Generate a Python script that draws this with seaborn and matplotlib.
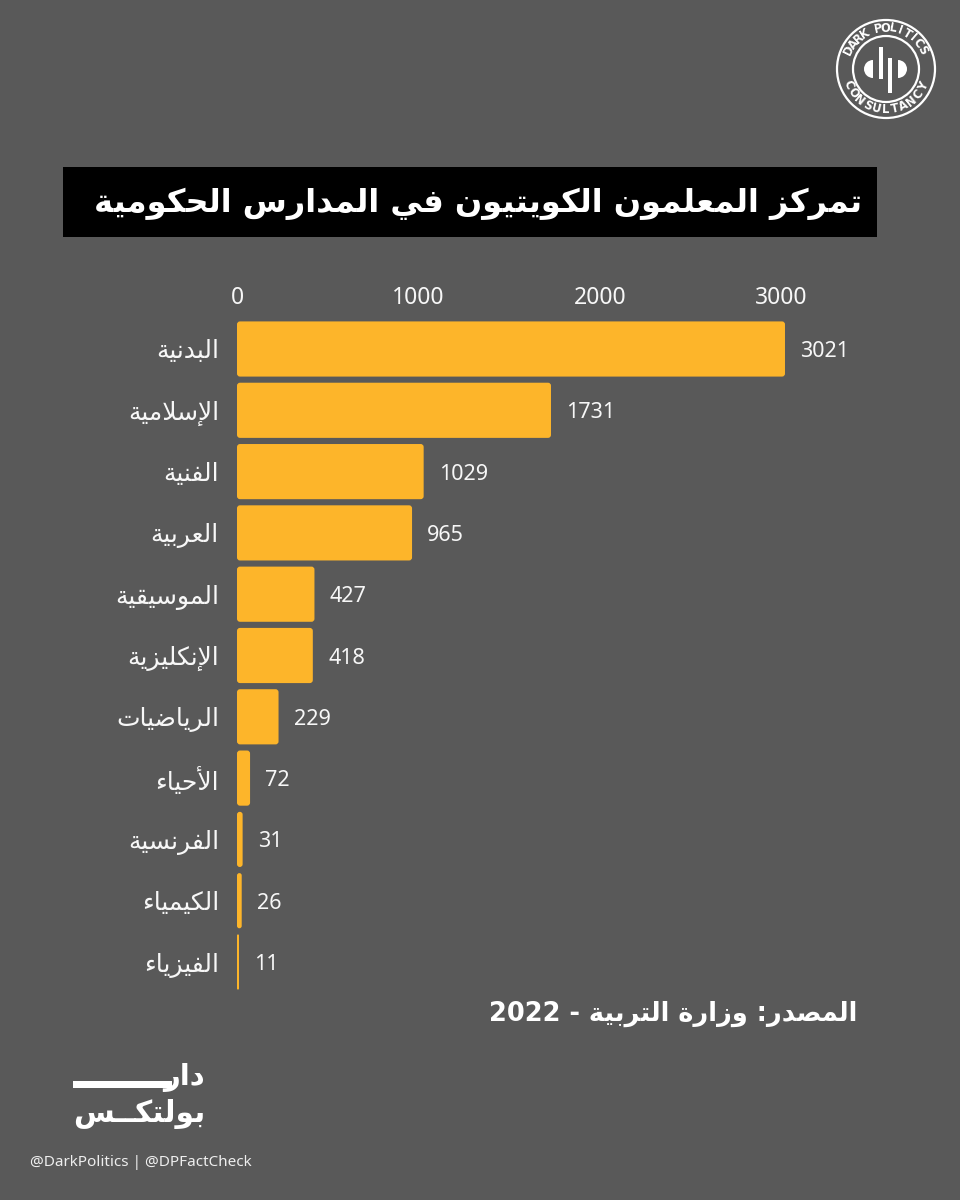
import numpy as np
import pandas as pd
import matplotlib
matplotlib.use("Agg")
import matplotlib.pyplot as plt
import seaborn as sns
from matplotlib.patches import Rectangle, Circle, Wedge, FancyBboxPatch

# ---------------- data ----------------
subjects = ["البدنية", "الإسلامية", "الفنية", "العربية", "الموسيقية", "الإنكليزية",
            "الرياضيات", "الأحياء", "الفرنسية", "الكيمياء", "الفيزياء"]
teachers = [3021, 1731, 1029, 965, 427, 418, 229, 72, 31, 26, 11]
x_ticks = [0, 1000, 2000, 3000]
title = "تمركز المعلمون الكويتيون في المدارس الحكومية"
source = "المصدر: وزارة التربية - 2022"
handles = "@DarkPolitics | @DPFactCheck"
logo_top = "DARK POLITICS"
logo_bottom = "CONSULTANCY"
brand_line1 = "دار"
brand_line2 = "بولتكــس"

# ---------------- Arabic shaping (contextual forms + RTL order) ----------------
def _q(b):
    return (b, b + 1, b + 2, b + 3)

def _p(b):
    return (b, b + 1)

FORMS = {
    "\u0621": (0xFE80,), "\u0622": _p(0xFE81), "\u0623": _p(0xFE83), "\u0624": _p(0xFE85),
    "\u0625": _p(0xFE87), "\u0626": _q(0xFE89), "\u0627": _p(0xFE8D), "\u0628": _q(0xFE8F),
    "\u0629": _p(0xFE93), "\u062A": _q(0xFE95), "\u062B": _q(0xFE99), "\u062C": _q(0xFE9D),
    "\u062D": _q(0xFEA1), "\u062E": _q(0xFEA5), "\u062F": _p(0xFEA9), "\u0630": _p(0xFEAB),
    "\u0631": _p(0xFEAD), "\u0632": _p(0xFEAF), "\u0633": _q(0xFEB1), "\u0634": _q(0xFEB5),
    "\u0635": _q(0xFEB9), "\u0636": _q(0xFEBD), "\u0637": _q(0xFEC1), "\u0638": _q(0xFEC5),
    "\u0639": _q(0xFEC9), "\u063A": _q(0xFECD), "\u0641": _q(0xFED1), "\u0642": _q(0xFED5),
    "\u0643": _q(0xFED9), "\u0644": _q(0xFEDD), "\u0645": _q(0xFEE1), "\u0646": _q(0xFEE5),
    "\u0647": _q(0xFEE9), "\u0648": _p(0xFEED), "\u0649": _p(0xFEEF), "\u064A": _q(0xFEF1),
}
LAM_ALEF = {"\u0622": (0xFEF5, 0xFEF6), "\u0623": (0xFEF7, 0xFEF8),
            "\u0625": (0xFEF9, 0xFEFA), "\u0627": (0xFEFB, 0xFEFC)}


def _jt(item):
    kind, c = item
    if kind == "LA":
        return "R"
    if c == "\u0640":
        return "D"
    f = FORMS.get(c)
    if f is None:
        return None
    return {1: "U", 2: "R", 4: "D"}[len(f)]


def shape(text):
    items = []
    i = 0
    while i < len(text):
        c = text[i]
        if c == "\u0644" and i + 1 < len(text) and text[i + 1] in LAM_ALEF:
            items.append(("LA", text[i + 1]))
            i += 2
        else:
            items.append(("C", c))
            i += 1
    out = []
    n = len(items)
    for k, item in enumerate(items):
        t = _jt(item)
        pt = _jt(items[k - 1]) if k > 0 else None
        nt = _jt(items[k + 1]) if k + 1 < n else None
        lp = t in ("R", "D") and pt == "D"
        ln = t == "D" and nt in ("R", "D")
        kind, c = item
        if kind == "LA":
            iso, fin = LAM_ALEF[c]
            out.append(chr(fin if lp else iso))
        elif t is None or c == "\u0640":
            out.append(c)
        else:
            f = FORMS[c]
            if t == "U":
                out.append(chr(f[0]))
            elif t == "R":
                out.append(chr(f[1] if lp else f[0]))
            else:
                idx = 3 if (lp and ln) else 1 if lp else 2 if ln else 0
                out.append(chr(f[idx]))
    s = "".join(out)
    # visual order: reverse runs, keep LTR runs (digits / latin) intact
    runs = []
    for ch in s:
        ltr = ch.isascii() and ch.isalnum()
        if runs and runs[-1][0] == ltr:
            runs[-1][1].append(ch)
        else:
            runs.append([ltr, [ch]])
    res = []
    for ltr, chs in reversed(runs):
        res.append("".join(chs) if ltr else "".join(reversed(chs)))
    return "".join(res)


# ---------------- style ----------------
BG = "#595959"
BAR = "#fdb52a"
TXT = "#f7f7f7"
sns.set_theme(style="white")
plt.rcParams["font.family"] = ["Noto Sans", "DejaVu Sans"]
ARABIC = ["DejaVu Sans"]
NUM = ["Noto Sans", "DejaVu Sans"]

W, H = 960, 1200
fig = plt.figure(figsize=(9.6, 12), dpi=100, facecolor=BG)

# decoration layer in pixel coordinates
deco = fig.add_axes([0, 0, 1, 1], zorder=-1)
deco.set_xlim(0, W)
deco.set_ylim(H, 0)
deco.axis("off")

# ---------------- main chart ----------------
ax_left, ax_right = 237, 835.6
ax_top, ax_bot = 318.35, 992.65
ax = fig.add_axes([ax_left / W, 1 - ax_bot / H, (ax_right - ax_left) / W, (ax_bot - ax_top) / H])
ax.set_facecolor("none")

df = pd.DataFrame({"subject": subjects, "teachers": teachers})
sns.barplot(data=df, x="teachers", y="subject", color=BAR, saturation=1,
            width=0.9, errorbar=None, ax=ax, linewidth=0)

XMAX = 3300
ax.set_xlim(0, XMAX)
ax.set_ylim(len(subjects) - 0.5, -0.5)
ax.xaxis.tick_top()
ax.set_xticks(x_ticks)
ax.set_xticklabels([str(v) for v in x_ticks], fontsize=16.5, color=TXT, family=NUM)
ax.set_yticks(range(len(subjects)))
ax.set_yticklabels([shape(s) for s in subjects], fontsize=18, color=TXT, family=ARABIC)
ax.tick_params(axis="x", length=0, pad=6)
ax.tick_params(axis="y", length=0, pad=13)
ax.set_xlabel("")
ax.set_ylabel("")
for sp in ax.spines.values():
    sp.set_visible(False)
ax.grid(False)

vlabels = ax.bar_label(ax.containers[0], labels=[str(v) for v in teachers], padding=11,
                       color=TXT, fontsize=15.5, family=NUM)
for t in vlabels:
    t.set_va("center_baseline")

# slightly rounded bar corners (rebuilt from seaborn's own bar patches)
px_per_x = (ax_right - ax_left) / XMAX
px_per_y = (ax_bot - ax_top) / len(subjects)
r_px = 3.0
for p in list(ax.containers[0].patches):
    x0, y0, w, h = p.get_x(), p.get_y(), p.get_width(), p.get_height()
    rx = min(r_px / px_per_x, abs(w) / 2)
    aspect = (r_px / px_per_y) / (r_px / px_per_x)
    fb = FancyBboxPatch((x0, y0), w, h, boxstyle=f"round,pad=0,rounding_size={rx}",
                        mutation_aspect=aspect, facecolor=BAR, edgecolor="none")
    ax.add_patch(fb)
    p.set_visible(False)

# ---------------- title ----------------
deco.add_patch(Rectangle((63, 167), 814, 70, facecolor="black", edgecolor="none"))
t_title = deco.text(862, 204, shape(title), ha="right", va="center", color="white",
                    fontsize=30, fontweight="bold", family=ARABIC)

# ---------------- source ----------------
t_src = deco.text(857, 1014, shape(source), ha="right", va="center", color="white",
                  fontsize=20, fontweight="bold", family=["DejaVu Sans"])

# ---------------- bottom-left brand ----------------
deco.text(205, 1078, shape(brand_line1), ha="right", va="center", color="white",
          fontsize=21, fontweight="bold", family=ARABIC)
deco.add_patch(Rectangle((73, 1081), 99, 7, facecolor="white", edgecolor="none"))
t_b2 = deco.text(205, 1114, shape(brand_line2), ha="right", va="center", color="white",
                 fontsize=20, fontweight="bold", family=ARABIC)
deco.text(30, 1163, handles, ha="left", va="center", color="#eeeeee", fontsize=11, family=NUM)

# ---------------- top-right logo ----------------
cx, cy = 886, 69
deco.add_patch(Circle((cx, cy), 49, fill=False, edgecolor="white", linewidth=1.6))
deco.add_patch(Circle((cx, cy), 33, fill=False, edgecolor="white", linewidth=1.6))
for i, ch in enumerate(logo_top):
    ang = np.deg2rad(153 - i * (125 / (len(logo_top) - 1)))
    x = cx + 41 * np.cos(ang)
    y = cy - 41 * np.sin(ang)
    deco.text(x, y, ch, ha="center", va="center", rotation=np.rad2deg(ang) - 90,
              rotation_mode="anchor", color="white", fontsize=8.3, fontweight="bold",
              family=["DejaVu Sans"])
for i, ch in enumerate(logo_bottom):
    ang = np.deg2rad(203 + i * (132 / (len(logo_bottom) - 1)))
    x = cx + 41 * np.cos(ang)
    y = cy - 41 * np.sin(ang)
    deco.text(x, y, ch, ha="center", va="center", rotation=np.rad2deg(ang) + 90,
              rotation_mode="anchor", color="white", fontsize=8.3, fontweight="bold",
              family=["DejaVu Sans"])
deco.add_patch(Wedge((cx - 13, cy), 9, 90, 270, facecolor="white", edgecolor="none"))
deco.add_patch(Wedge((cx + 12, cy), 9, -90, 90, facecolor="white", edgecolor="none"))
deco.add_patch(Rectangle((cx - 7, cy - 22), 4, 32, facecolor="white", edgecolor="none"))
deco.add_patch(Rectangle((cx + 2, cy - 11), 4, 35, facecolor="white", edgecolor="none"))

# ---------------- fit text widths ----------------
fig.canvas.draw()
r = fig.canvas.get_renderer()

def fit(t, target):
    w = t.get_window_extent(r).width
    t.set_fontsize(t.get_fontsize() * target / w)

fit(t_title, 767)
fit(t_src, 367)
fit(t_b2, 132)

fig.savefig("out.png", dpi=100, facecolor=BG)
